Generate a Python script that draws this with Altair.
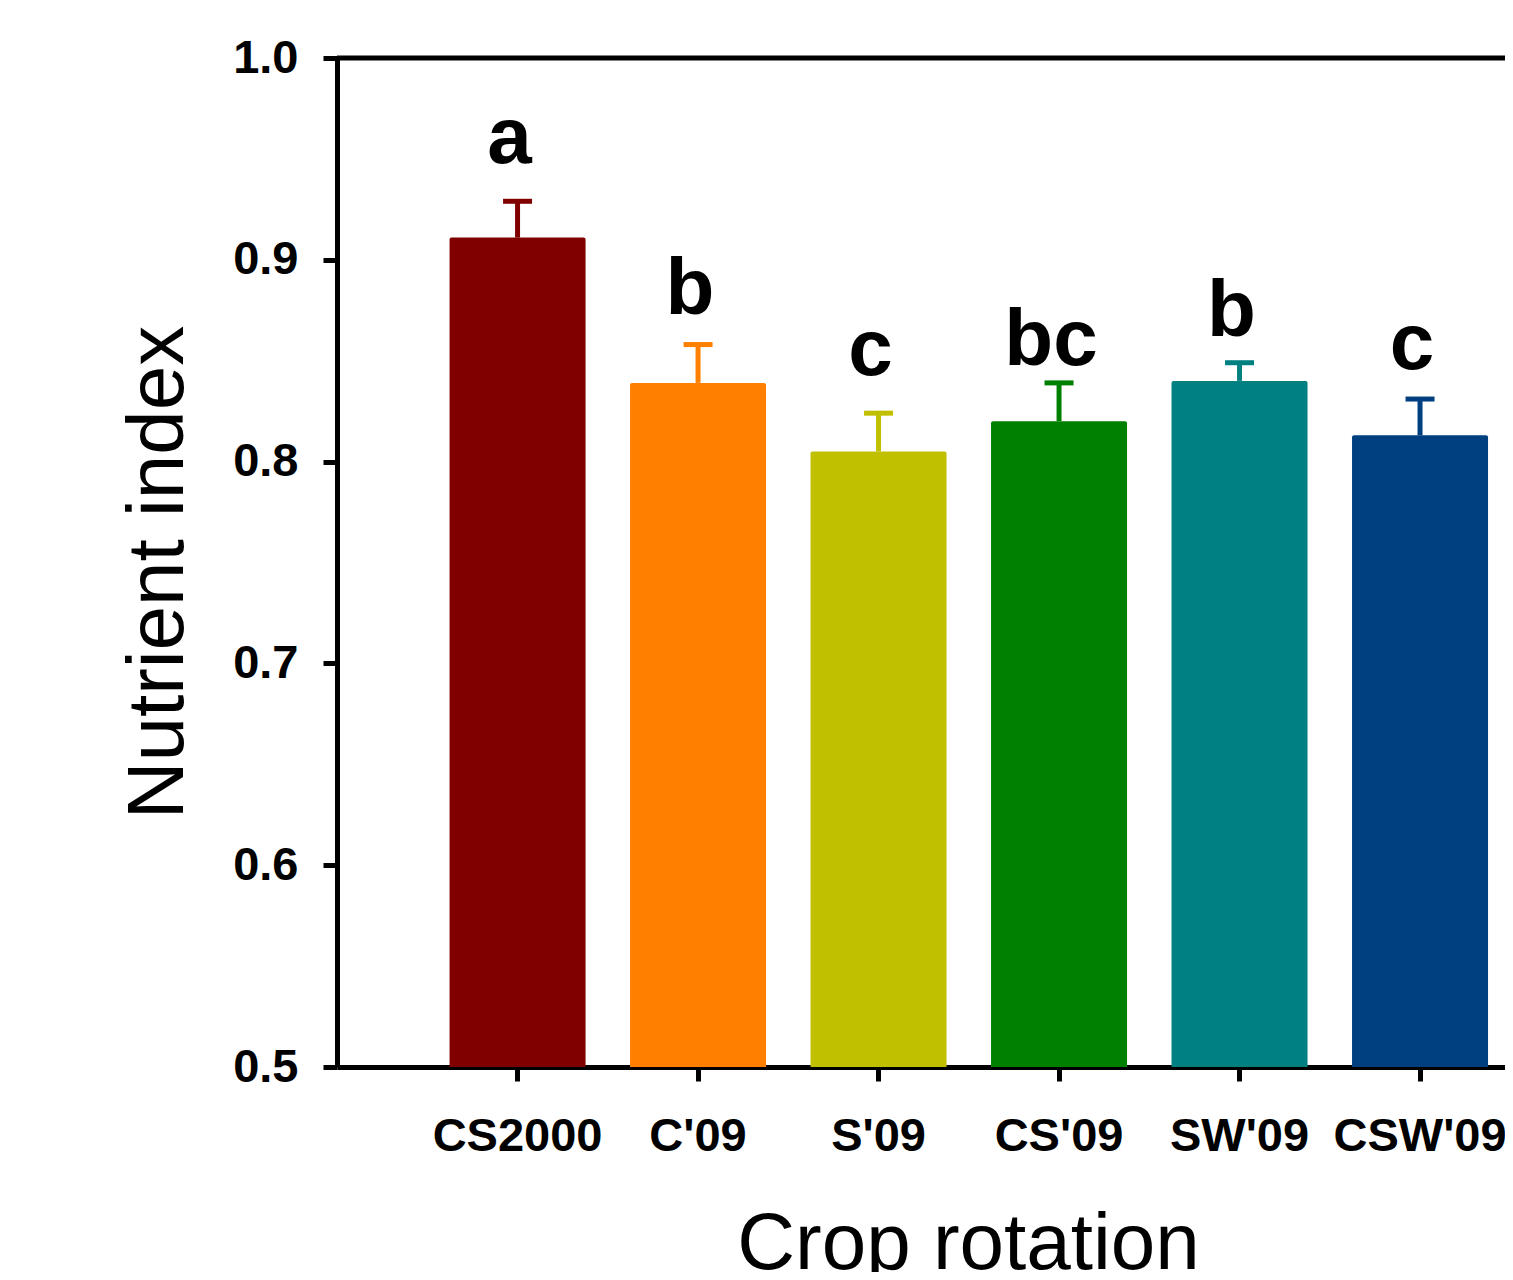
import altair as alt
import pandas as pd

rotations = ["CS2000", "C'09", "S'09", "CS'09", "SW'09", "CSW'09"]
means = [0.911, 0.839, 0.805, 0.820, 0.840, 0.813]
upper = [0.929, 0.858, 0.824, 0.839, 0.849, 0.831]
letters = ["a", "b", "c", "bc", "b", "c"]
letter_y = [0.948, 0.873, 0.843, 0.848, 0.862, 0.846]
colors = ["#800000", "#FF8000", "#C0C000", "#008000", "#008080", "#004080"]
y_ticks = [0.5, 0.6, 0.7, 0.8, 0.9, 1.0]

FONT = "Liberation Sans"
W, H = 1168, 1009

df = pd.DataFrame({
    "rotation": rotations,
    "mean": means,
    "upper": upper,
    "letter": letters,
    "letter_y": letter_y,
})

xscale = alt.Scale(domain=rotations, paddingInner=0.2465, paddingOuter=0.3588,
                   align=0.869, round=False)
yscale = alt.Scale(domain=[0.5, 1.0], zero=False, nice=False)
cscale = alt.Scale(domain=rotations, range=colors)

x_enc = alt.X("rotation:N", scale=xscale, sort=rotations,
              axis=alt.Axis(title="Crop rotation", labelAngle=0, labelFontSize=47,
                            labelFontWeight="bold", labelFont=FONT, labelColor="black",
                            labelPadding=32, tickSize=14, tickWidth=5, tickColor="black",
                            domainWidth=5, domainColor="black", grid=False,
                            titleFont=FONT, titleFontSize=80, titleFontWeight="normal",
                            titleColor="black", titleX=631, titleY=201,
                            titleBaseline="alphabetic", titleAlign="center"))
y_enc = alt.Y("mean:Q", scale=yscale,
              axis=alt.Axis(title="Nutrient index", values=y_ticks, format=".1f",
                            labelFontSize=47, labelFontWeight="bold", labelFont=FONT,
                            labelColor="black", labelPadding=25, tickSize=14, tickWidth=5,
                            tickColor="black", domainWidth=5, domainColor="black",
                            grid=False, titleFont=FONT, titleFontSize=80,
                            titleFontWeight="normal", titleColor="black",
                            titleAngle=270, titleX=-155, titleY=514,
                            titleBaseline="alphabetic", titleAlign="center"))

base = alt.Chart(df)

bars = base.mark_bar(cornerRadiusTopLeft=2, cornerRadiusTopRight=2, opacity=1).encode(
    x=x_enc, y=y_enc, y2=alt.datum(0.5),
    color=alt.Color("rotation:N", scale=cscale, legend=None),
)

err = base.mark_rule(strokeWidth=5, opacity=1).encode(
    x=alt.X("rotation:N", scale=xscale, sort=rotations),
    y=alt.Y("mean:Q", scale=yscale),
    y2="upper:Q",
    color=alt.Color("rotation:N", scale=cscale, legend=None),
)

caps = base.mark_tick(thickness=5, size=29, opacity=1).encode(
    x=alt.X("rotation:N", scale=xscale, sort=rotations),
    y=alt.Y("upper:Q", scale=yscale),
    color=alt.Color("rotation:N", scale=cscale, legend=None),
)

labels = base.mark_text(font=FONT, fontSize=80, fontWeight="bold", color="black",
                        baseline="alphabetic", align="center", dx=-8).encode(
    x=alt.X("rotation:N", scale=xscale, sort=rotations),
    y=alt.Y("letter_y:Q", scale=yscale),
    text="letter:N",
)

top_line = alt.Chart(pd.DataFrame({"top": [1.0]})).mark_rule(
    strokeWidth=5, color="black", clip=False).encode(
    y=alt.Y("top:Q", scale=yscale),
    x=alt.value(0), x2=alt.value(W),
)

chart = alt.layer(bars, err, caps, labels, top_line).properties(
    width=W, height=H,
    autosize=alt.AutoSizeParams(type="none"),
    padding={"left": 329, "top": 50, "right": 0, "bottom": 205},
).configure_view(stroke=None)

chart.save("out.html", embed_options={"renderer": "svg", "actions": False})
